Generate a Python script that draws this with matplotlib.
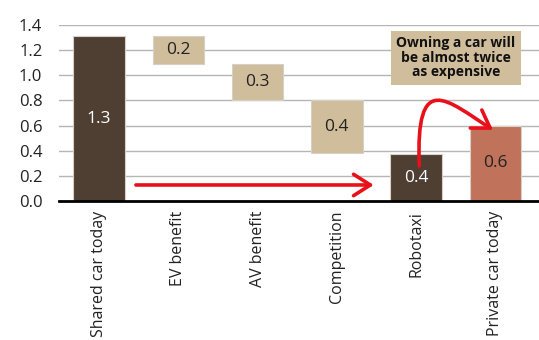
import matplotlib.pyplot as plt
import numpy as np
from matplotlib.patches import FancyArrowPatch
from matplotlib.path import Path

plt.rcParams['font.family'] = ['Open Sans', 'DejaVu Sans']

categories = ['Shared car today', 'EV benefit', 'AV benefit', 'Competition', 'Robotaxi', 'Private car today']
values = [1.31, 0.22, 0.29, 0.42, 0.37, 0.60]
labels = ['1.3', '0.2', '0.3', '0.4', '0.4', '0.6']
kinds = ['total', 'step', 'step', 'step', 'total', 'total']

dark = '#4f3f33'
tan = '#cfbd9b'
salmon = '#c0735a'
colors = [dark, tan, tan, tan, dark, salmon]
text_colors = ['white', '#222222', '#222222', '#222222', 'white', '#222222']

# waterfall bottoms
bottoms = []
level = 0
for v, k in zip(values, kinds):
    if k == 'total':
        bottoms.append(0)
        level = v
    else:
        level -= v
        bottoms.append(level)

fig = plt.figure(figsize=(5.39, 3.40), dpi=100)
ax = fig.add_axes([0.1095, 0.409, 0.8905, 0.5176])

x = np.arange(len(categories))
ax.bar(x, values, bottom=bottoms, width=0.65, color=colors, edgecolor='#d8d0c8',
       linewidth=0.8, zorder=3)
for xi, v, b, lab, tc in zip(x, values, bottoms, labels, text_colors):
    ax.text(xi, b + v / 2, lab, ha='center', va='center', fontsize=12.5, color=tc, zorder=4)

ax.set_xlim(-0.505, 5.55)
ax.set_ylim(0, 1.4)
ax.set_yticks(np.arange(0, 1.41, 0.2))
ax.set_yticklabels([f'{t:.1f}' for t in np.arange(0, 1.41, 0.2)], fontsize=12, color='#222222')
ax.set_xticks(x)
ax.set_xticklabels(categories, rotation=90, fontsize=11.5, color='#222222')
ax.tick_params(axis='both', length=0)
ax.tick_params(axis='y', pad=12)
ax.tick_params(axis='x', pad=7)
ax.grid(axis='y', color='#b5b5b5', linewidth=1, zorder=0)
for s in ['top', 'right', 'left']:
    ax.spines[s].set_visible(False)
ax.spines['bottom'].set_linewidth(2)
ax.spines['bottom'].set_color('black')
ax.spines['bottom'].set_zorder(5)

red = '#e8101a'
head = '->,head_length=0.55,head_width=0.35'
# straight arrow from shared car to robotaxi
ax.add_patch(FancyArrowPatch((0.43, 0.127), (3.5, 0.127), arrowstyle=head,
                             color=red, linewidth=2.6, mutation_scale=22, zorder=6))

# curved arrow from robotaxi to private car
x0, y0 = x[4] + 0.04, values[4] * 0.75
x1, y1 = x[5] - 0.03, values[5] - 0.035
top = bottoms[3] + values[3]
path = Path([(x0, y0), (x0 - 0.05, top + 0.25), (x0 + 0.35, top), (x1, y1)],
            [Path.MOVETO, Path.CURVE4, Path.CURVE4, Path.CURVE4])
ax.add_patch(FancyArrowPatch(path=path, arrowstyle=head,
                             color=red, linewidth=2.6, mutation_scale=22, zorder=6))

ax.text(4.5, 1.14, 'Owning a car will\nbe almost twice\nas expensive', ha='center', va='center',
        fontsize=10, fontweight='bold', color='#111111', linespacing=1.05, zorder=6,
        bbox=dict(boxstyle='square,pad=0.4', facecolor=tan, edgecolor='none'))

fig.savefig('out.png', dpi=100)
